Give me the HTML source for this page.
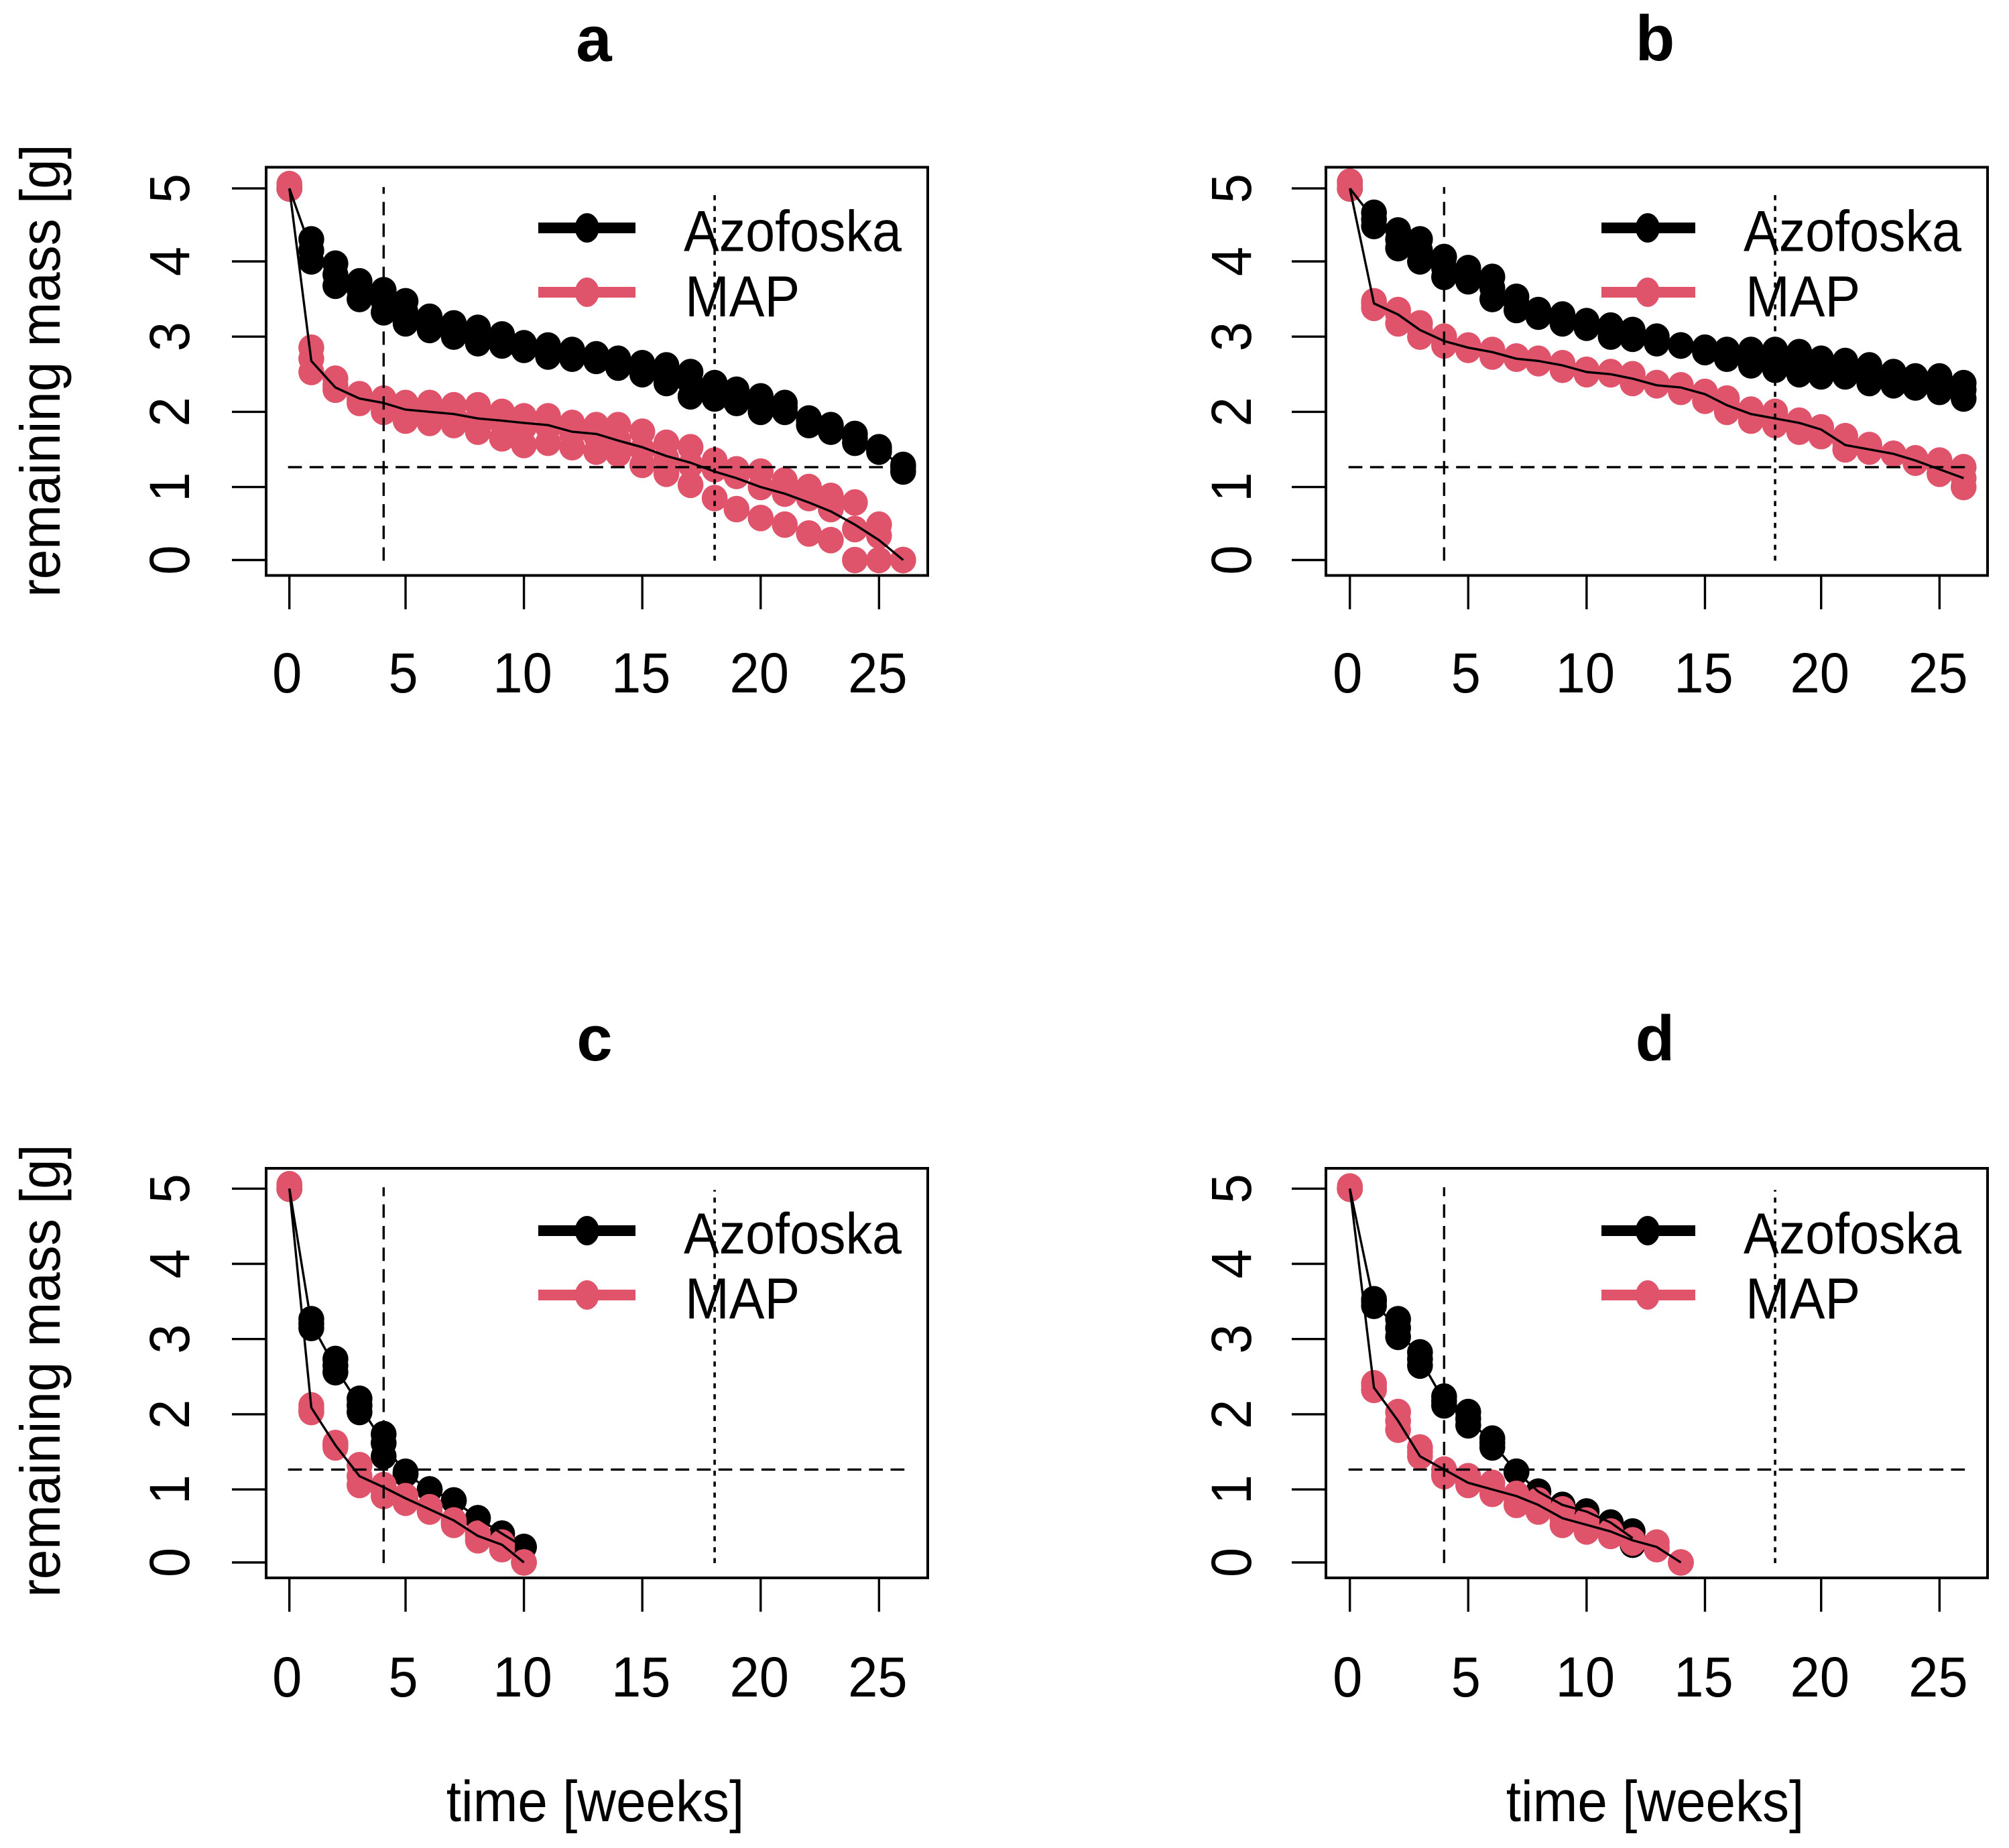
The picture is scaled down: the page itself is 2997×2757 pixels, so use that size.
<!DOCTYPE html>
<html lang="en">
<head>
<meta charset="utf-8">
<title>Remaining mass of Azofoska and MAP over time</title>
<style>
html,body{margin:0;padding:0;background:#fff}
svg{display:block}
text{font-family:"Liberation Sans",Arial,sans-serif;fill:#000}
.t{font-size:96px;font-weight:bold;text-anchor:middle}
.l{font-size:79px}
.a{font-size:80px}
.m{text-anchor:middle}
</style>
</head>
<body>
<svg id="chart" xmlns="http://www.w3.org/2000/svg" width="2997" height="2757" viewBox="0 0 2997 2757">
<rect width="2997" height="2757" fill="#fff"/>

<g>
<text class="t" x="886" y="91">a</text>
<text class="a m" transform="translate(89 553) rotate(-90) scale(1 1.06)">remaining mass [g]</text>
<g id="marks-a"></g>
<rect x="397" y="249.5" width="987" height="609" fill="none" stroke="#000" stroke-width="4"/>
<g>
<line x1="803" x2="948" y1="340" y2="340" stroke="#000" stroke-width="16"/>
<ellipse cx="875.7" cy="340" rx="18" ry="22" fill="#000"/>
<text class="l" transform="translate(1020 374.7) scale(1 1.09)">Azofoska</text>
<line x1="803" x2="948" y1="436" y2="436" stroke="#DF536B" stroke-width="16"/>
<ellipse cx="875.7" cy="436" rx="18" ry="22" fill="#DF536B"/>
<text class="l" transform="translate(1022 472) scale(1 1.09)">MAP</text>
</g>
</g>

<g>
<text class="t" x="2469" y="90">b</text>
<g id="marks-b"></g>
<rect x="1978" y="249.5" width="987" height="609" fill="none" stroke="#000" stroke-width="4"/>
<g>
<line x1="2389" x2="2529" y1="340" y2="340" stroke="#000" stroke-width="16"/>
<ellipse cx="2458" cy="340" rx="18" ry="22" fill="#000"/>
<text class="l" transform="translate(2601 374.7) scale(1 1.09)">Azofoska</text>
<line x1="2389" x2="2529" y1="436" y2="436" stroke="#DF536B" stroke-width="16"/>
<ellipse cx="2458" cy="436" rx="18" ry="22" fill="#DF536B"/>
<text class="l" transform="translate(2604 472) scale(1 1.09)">MAP</text>
</g>
</g>

<g>
<text class="t" x="887" y="1582">c</text>
<text class="a m" transform="translate(89 2045) rotate(-90) scale(1 1.06)">remaining mass [g]</text>
<text class="a m" transform="translate(888 2717) scale(1 1.08)">time [weeks]</text>
<g id="marks-c"></g>
<rect x="397" y="1743" width="987" height="611" fill="none" stroke="#000" stroke-width="4"/>
<g>
<line x1="803" x2="948" y1="1836" y2="1836" stroke="#000" stroke-width="16"/>
<ellipse cx="875.7" cy="1836" rx="18" ry="22" fill="#000"/>
<text class="l" transform="translate(1020 1870) scale(1 1.09)">Azofoska</text>
<line x1="803" x2="948" y1="1932" y2="1932" stroke="#DF536B" stroke-width="16"/>
<ellipse cx="875.7" cy="1932" rx="18" ry="22" fill="#DF536B"/>
<text class="l" transform="translate(1022 1967) scale(1 1.09)">MAP</text>
</g>
</g>

<g>
<text class="t" x="2469" y="1582">d</text>
<text class="a m" transform="translate(2469 2717) scale(1 1.08)">time [weeks]</text>
<g id="marks-d"></g>
<rect x="1978" y="1743" width="987" height="611" fill="none" stroke="#000" stroke-width="4"/>
<g>
<line x1="2389" x2="2529" y1="1836" y2="1836" stroke="#000" stroke-width="16"/>
<ellipse cx="2458" cy="1836" rx="18" ry="22" fill="#000"/>
<text class="l" transform="translate(2601 1870) scale(1 1.09)">Azofoska</text>
<line x1="2389" x2="2529" y1="1932" y2="1932" stroke="#DF536B" stroke-width="16"/>
<ellipse cx="2458" cy="1932" rx="18" ry="22" fill="#DF536B"/>
<text class="l" transform="translate(2604 1967) scale(1 1.09)">MAP</text>
</g>
</g>
</svg>

<script>
// Tick labels and reference values
const xTickLabels = [0, 5, 10, 15, 20, 25];
const yTickLabels = [0, 1, 2, 3, 4, 5];
const refDashedWeek = [4];
const refDottedWeek = [18];
const thresholdMass = [1.25];

// Values are indexed by week (index 0 = week 0)
const aAzoHigh = [5,4.31,3.98,3.76,3.62,3.48,3.26,3.19,3.12,3.04,2.93,2.90,2.82,2.78,2.72,2.64,2.61,2.54,2.39,2.28,2.21,2.11,1.92,1.82,1.71,1.53,1.27];
const aAzoMid = [5,4.16,3.84,3.64,3.48,3.33,3.17,3.10,3.03,2.97,2.88,2.83,2.77,2.72,2.65,2.57,2.50,2.38,2.28,2.19,2.10,2.05,1.87,1.78,1.65,1.49,1.24];
const aAzoLow = [5,4.02,3.69,3.51,3.33,3.18,3.08,3.00,2.93,2.90,2.82,2.75,2.71,2.67,2.58,2.50,2.39,2.21,2.17,2.10,1.99,1.99,1.82,1.74,1.59,1.45,1.20];
const aMapHigh = [5.05,2.85,2.43,2.24,2.18,2.10,2.10,2.07,2.07,1.99,1.95,1.95,1.85,1.82,1.82,1.74,1.59,1.52,1.34,1.23,1.19,1.09,0.99,0.87,0.77,0.48,0];
const aMapMid = [5,2.72,2.36,2.17,2.08,2.00,1.97,1.94,1.90,1.85,1.80,1.78,1.70,1.66,1.62,1.50,1.38,1.27,1.21,1.13,0.98,0.91,0.83,0.69,0.41,0.33,0];
const aMapLow = [5,2.53,2.28,2.10,1.99,1.89,1.85,1.81,1.74,1.63,1.55,1.59,1.52,1.45,1.42,1.27,1.17,1.01,0.84,0.69,0.58,0.48,0.37,0.26,0,0,0];
const aAzoMean = [5,4.15,3.83,3.63,3.47,3.33,3.17,3.10,3.02,2.97,2.88,2.83,2.77,2.72,2.65,2.57,2.50,2.38,2.28,2.19,2.10,2.05,1.87,1.78,1.65,1.49,1.24];
const aMapMean = [5,2.67,2.32,2.18,2.11,2.03,2.00,1.96,1.92,1.89,1.85,1.81,1.74,1.69,1.62,1.52,1.40,1.31,1.20,1.10,0.99,0.90,0.79,0.66,0.48,0.28,0];

const bAzoHigh = [5.09,4.67,4.42,4.31,4.06,3.91,3.80,3.55,3.37,3.30,3.22,3.15,3.08,3.01,2.90,2.86,2.83,2.83,2.83,2.79,2.72,2.68,2.61,2.54,2.46,2.46,2.39];
const bAzoMid = [5,4.58,4.31,4.16,3.93,3.83,3.65,3.46,3.31,3.24,3.16,3.08,3.02,2.97,2.90,2.82,2.77,2.72,2.70,2.64,2.59,2.57,2.50,2.44,2.39,2.35,2.28];
const bAzoLow = [5,4.49,4.20,4.02,3.80,3.76,3.51,3.37,3.26,3.19,3.11,3.01,2.97,2.93,2.90,2.79,2.72,2.61,2.57,2.50,2.46,2.46,2.39,2.35,2.32,2.25,2.17];
const bMapHigh = [5.09,3.48,3.37,3.19,3.01,2.90,2.83,2.75,2.72,2.65,2.57,2.54,2.50,2.39,2.36,2.25,2.18,2.03,2.00,1.89,1.78,1.67,1.56,1.42,1.38,1.35,1.24];
const bMapMid = [5.04,3.44,3.29,3.09,2.95,2.87,2.79,2.73,2.68,2.61,2.54,2.51,2.44,2.37,2.31,2.20,2.08,1.97,1.92,1.82,1.73,1.57,1.50,1.42,1.34,1.26,1.12];
const bMapLow = [5,3.40,3.19,3.01,2.90,2.82,2.75,2.72,2.64,2.57,2.50,2.50,2.39,2.36,2.25,2.14,1.99,1.89,1.82,1.74,1.67,1.49,1.45,1.42,1.31,1.17,0.98];
const bAzoMean = [5,4.58,4.31,4.16,3.93,3.83,3.65,3.46,3.31,3.24,3.16,3.08,3.02,2.97,2.90,2.82,2.77,2.72,2.70,2.64,2.59,2.57,2.50,2.44,2.39,2.35,2.28];
const bMapMean = [5,3.44,3.29,3.09,2.94,2.87,2.79,2.72,2.68,2.61,2.54,2.50,2.43,2.35,2.32,2.24,2.08,1.97,1.92,1.86,1.75,1.56,1.49,1.42,1.34,1.21,1.12];

const cAzoHigh = [5,3.27,2.73,2.19,1.73,1.22,1.00,0.83,0.61,0.39,0.21];
const cAzoMid = [5,3.21,2.63,2.10,1.60,1.20,1.00,0.83,0.61,0.39,0.21];
const cAzoLow = [5,3.16,2.55,2.01,1.44,1.19,1.00,0.83,0.61,0.39,0.21];
const cMapHigh = [5.08,2.12,1.62,1.30,1.04,0.89,0.75,0.58,0.40,0.29,0];
const cMapMid = [5.03,2.06,1.58,1.16,0.97,0.85,0.71,0.54,0.36,0.24,0];
const cMapLow = [5,2.01,1.55,1.04,0.90,0.82,0.68,0.50,0.32,0.18,0];
const cAzoMean = [5,3.20,2.62,2.10,1.60,1.20,1.00,0.83,0.61,0.39,0.21];
const cMapMean = [5,2.08,1.57,1.15,1.02,0.87,0.72,0.56,0.36,0.25,0];

const dAzoHigh = [5,3.53,3.27,2.81,2.23,2.01,1.66,1.22,0.97,0.79,0.68,0.53,0.43];
const dAzoMid = [5,3.49,3.15,2.72,2.17,1.92,1.60,1.22,0.97,0.79,0.68,0.53,0.34];
const dAzoLow = [5,3.45,3.02,2.63,2.12,1.84,1.55,1.22,0.97,0.79,0.68,0.53,0.26];
const dMapHigh = [5.04,2.41,2.01,1.55,1.26,1.15,1.08,0.93,0.83,0.72,0.58,0.43,0.32,0.29,0];
const dMapMid = [5,2.37,1.90,1.50,1.20,1.09,1.00,0.86,0.76,0.61,0.50,0.40,0.30,0.23,0];
const dMapLow = [5,2.33,1.80,1.44,1.15,1.04,0.93,0.79,0.68,0.50,0.43,0.36,0.28,0.18,0];
const dAzoMean = [5,3.48,3.15,2.72,2.17,1.92,1.60,1.22,0.97,0.79,0.68,0.53,0.34];
const dMapMean = [5,2.35,1.90,1.42,1.26,1.09,0.98,0.89,0.78,0.60,0.51,0.41,0.32,0.23,0];

const MAP_COLOR = '#DF536B';
const AZO_COLOR = '#000000';
const SVG_NS = 'http://www.w3.org/2000/svg';

// Layout only. The source device snapped positions to a coarse pixel grid, so the scales do too.
const panels = [
  {id:'a', host:'marks-a', x0:431.7, kx:10.78, fx:0, y0:835.5, ky:33.7, fy:0.25, left:397, bottom:858.5, labelX:282, labelDy:174.5,
   azo:[aAzoHigh,aAzoMid,aAzoLow], map:[aMapHigh,aMapMid,aMapLow], azoMean:aAzoMean, mapMean:aMapMean},
  {id:'b', host:'marks-b', x0:2013.7, kx:10.76, fx:0.7, y0:835.5, ky:33.7, fy:0.25, left:1978, bottom:858.5, labelX:1866, labelDy:174.5,
   azo:[bAzoHigh,bAzoMid,bAzoLow], map:[bMapHigh,bMapMid,bMapLow], azoMean:bAzoMean, mapMean:bMapMean},
  {id:'c', host:'marks-c', x0:431.7, kx:10.78, fx:0, y0:2331, ky:33.8, fy:0.15, left:397, bottom:2354, labelX:282, labelDy:177,
   azo:[cAzoHigh,cAzoMid,cAzoLow], map:[cMapHigh,cMapMid,cMapLow], azoMean:cAzoMean, mapMean:cMapMean},
  {id:'d', host:'marks-d', x0:2013.7, kx:10.76, fx:0.7, y0:2331, ky:33.8, fy:0.15, left:1978, bottom:2354, labelX:1866, labelDy:177,
   azo:[dAzoHigh,dAzoMid,dAzoLow], map:[dMapHigh,dMapMid,dMapLow], azoMean:dAzoMean, mapMean:dMapMean}
];

function xScale(p, week) { return p.x0 + 3.27 * Math.floor(p.kx * week + p.fx); }
function yScale(p, mass) { return p.y0 - 3.3 * Math.floor(p.ky * mass + p.fy); }

function shape(tag, parent, attrs) {
  const el = document.createElementNS(SVG_NS, tag);
  for (const k in attrs) el.setAttribute(k, attrs[k]);
  parent.appendChild(el);
  return el;
}

function drawPoints(p, host, series, color, seriesName) {
  series.forEach(function (values, r) {
    values.forEach(function (v, week) {
      const dot = shape('ellipse', host, {cx: xScale(p, week), cy: yScale(p, v), rx: 19.3, ry: 19.8, fill: color});
      
      
    });
  });
}

function drawMean(p, host, values, seriesName) {
  const pts = values.map(function (v, week) { return xScale(p, week) + ',' + yScale(p, v); }).join(' ');
  const line = shape('polyline', host, {points: pts, fill: 'none', stroke: '#000', 'stroke-width': 3.4, 'stroke-linejoin': 'round'});
  
  
}

function drawRefs(p, host) {
  const top = yScale(p, 5);
  const bottom = yScale(p, 0);
  refDashedWeek.forEach(function (w) {
    const x = xScale(p, w);
    const v = shape('line', host, {x1: x, x2: x, y1: bottom + 1, y2: top - 2, stroke: '#000', 'stroke-width': 3.4, 'stroke-dasharray': '20 12.2'});
    
    
  });
  refDottedWeek.forEach(function (w) {
    const x = xScale(p, w);
    const v = shape('line', host, {x1: x, x2: x, y1: bottom + 1, y2: top + 2, stroke: '#000', 'stroke-width': 3.6, 'stroke-dasharray': '7.5 8.8'});
    
    
  });
  thresholdMass.forEach(function (m) {
    const y = yScale(p, m);
    const h = shape('line', host, {x1: xScale(p, 0) - 2, x2: xScale(p, 26) + 3, y1: y, y2: y, stroke: '#000', 'stroke-width': 3.4, 'stroke-dasharray': '20.7 11.4'});
    
    
  });
}

function drawAxes(p, host) {
  xTickLabels.forEach(function (t) {
    const x = xScale(p, t);
    const tick = shape('line', host, {x1: x, x2: x, y1: p.bottom, y2: p.bottom + 50.5, stroke: '#000', 'stroke-width': 3.4});
    
    
    const dx = String(t).length > 1 ? -2 : -3.5;
    const label = shape('text', host, {transform: 'translate(' + (x + dx) + ' ' + (p.bottom + p.labelDy) + ') scale(1 1.06)', 'font-size': 79.5, 'text-anchor': 'middle'});
    label.textContent = String(t);
    
    
  });
  yTickLabels.forEach(function (t) {
    const y = yScale(p, t);
    const tick = shape('line', host, {x1: p.left - 51, x2: p.left, y1: y, y2: y, stroke: '#000', 'stroke-width': 3.4});
    
    
    const label = shape('text', host, {transform: 'translate(' + p.labelX + ' ' + y + ') rotate(-90) scale(1 1.06)', 'font-size': 79.5, 'text-anchor': 'middle'});
    label.textContent = String(t);
    
    
  });
}

panels.forEach(function (p) {
  const host = document.getElementById(p.host);
  drawPoints(p, host, p.azo, AZO_COLOR, 'azofoska');
  drawPoints(p, host, p.map, MAP_COLOR, 'map');
  drawMean(p, host, p.azoMean, 'azofoska');
  drawMean(p, host, p.mapMean, 'map');
  drawRefs(p, host);
  drawAxes(p, host);
});
</script>
</body>
</html>
